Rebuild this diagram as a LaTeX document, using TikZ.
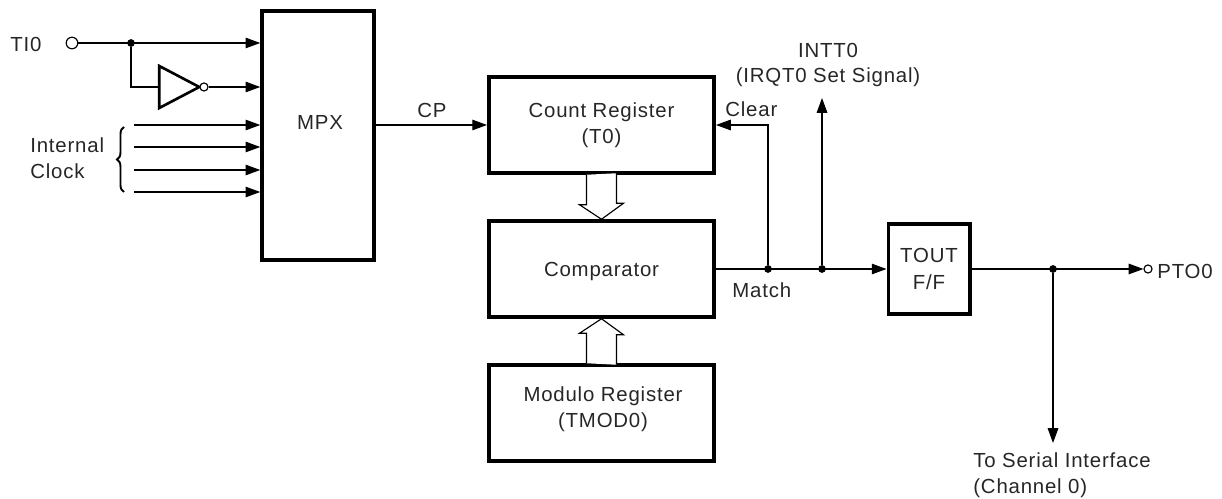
\documentclass[tikz,border=0pt]{standalone}
\usepackage{fontspec}
\setmainfont[LetterSpace=4]{Liberation Sans}
\usetikzlibrary{calc,arrows.meta,shapes.geometric,decorations.pathreplacing}

\begin{document}
\begin{tikzpicture}[
	x=0.02cm, y=-0.02cm,
	font=\fontsize{11.6}{14}\selectfont,
	block/.style={
		draw,
		line width=2pt,
		inner sep=0pt,
		text=black!85,
		align=center
	},
	wire/.style={line width=0.65pt},
	sig/.style={wire, -{Triangle[length=8.4pt,width=6pt]}},
	dot/.style={circle, fill=black, inner sep=0pt, minimum size=4.4pt},
	pin/.style={circle, draw, line width=0.65pt, fill=white, inner sep=0pt},
	label/.style={inner sep=0pt, text=black!85, align=left},
	busline/.style={line width=0.65pt, fill=white},
]

\useasboundingbox (0,0) rectangle (1222,499);

% blocks
\node[block, minimum width=2.24cm, minimum height=4.98cm] (mpx) at (318,135.5) {};
\node[block, minimum width=4.51cm, minimum height=1.92cm] (cntreg) at (601.5,125) {Count Register\\[1pt](T0)};
\node[block, minimum width=4.51cm, minimum height=1.92cm, text depth=0pt] (cmp) at (601.5,269) {Comparator};
\node[block, minimum width=4.51cm, minimum height=1.92cm] (modreg) at (601.5,413) {};
\node[block, minimum width=1.63cm, minimum height=1.80cm] (tout) at (929,269) {TOUT\\[1pt]F/F};

% input side
\node[pin, minimum size=6.6pt] (tipin) at (72,43) {};
\node[dot] (tidot) at (131,43) {};
\node[draw, line width=1.5pt, isosceles triangle, isosceles triangle stretches=true,
	minimum width=0.84cm, minimum height=0.80cm, inner sep=0pt] (inv) at (172,87) {};
\node[pin, minimum size=4.6pt] (invpin) at (204,87) {};

\draw[sig] (tipin) -- (tipin -| mpx.west);
\draw[wire] (tidot) |- (inv.west);
\draw[sig] (invpin) -- (invpin -| mpx.west);

% internal clock lines
\foreach \name/\y in {a/125,b/147,c/170,d/192} {
	\coordinate (clk\name) at (134,\y);
	\draw[sig] (clk\name) -- (clk\name -| mpx.west);
}
\draw[decorate, decoration={brace, amplitude=4pt, mirror}, line width=1.1pt]
	(124,127) -- (124,192);

% main signal path
\node[dot] (clrdot) at (768,269) {};
\node[dot] (intdot) at (822,269) {};
\node[dot] (serdot) at (1053,269) {};
\node[pin, minimum size=4.6pt] (ptopin) at (1148,269) {};
\coordinate (intend) at (822,98);
\coordinate (serend) at (1053,443);

\draw[sig] (mpx.east |- cntreg.west) -- (cntreg.west);
\draw[sig] (clrdot) |- (cntreg.east);
\draw[sig] (intdot) -- (intend);
\draw[sig] (cmp.east) -- (tout.west);
\draw[sig] (tout.east) -- (ptopin.west);
\draw[sig] (serdot) -- (serend);

% hollow arrows
\draw[busline] (cntreg.south) ++(-15,0) -- ++(0,30) -- ++(-7,0) -- (cmp.north)
	-- ++(22,-16) -- ++(-7,0) -- ++(0,-30);
\draw[busline] (modreg.north) ++(-15,0) -- ++(0,-30) -- ++(-7,0) -- (cmp.south)
	-- ++(22,16) -- ++(-7,0) -- ++(0,30);

% labels
\node[label] (lmpx) at (320,122) {MPX};
\node[label, align=center] (lmod) at (603,409) {Modulo Register\\[1pt](TMOD0)};
\node[label, anchor=west] (lti) at (10,44) {TI0};
\node[label, anchor=west] (lclk) at (30,158) {Internal\\[1pt]Clock};
\node[label] (lcp) at (432,110) {CP};
\node[label, anchor=west] (lclr) at (725,109) {Clear};
\node[label, anchor=west] (lmatch) at (732,290) {Match};
\node[label] (lint) at (828,50) {INTT0};
\node[label] (lirq) at (828,77) {(IRQT0 Set Signal)};
\node[label, anchor=west] (lpto) at (1157,271) {PTO0};
\node[label, anchor=west] (lser) at (973,475) {To Serial Interface\\[1pt](Channel 0)};

\end{tikzpicture}
\end{document}
